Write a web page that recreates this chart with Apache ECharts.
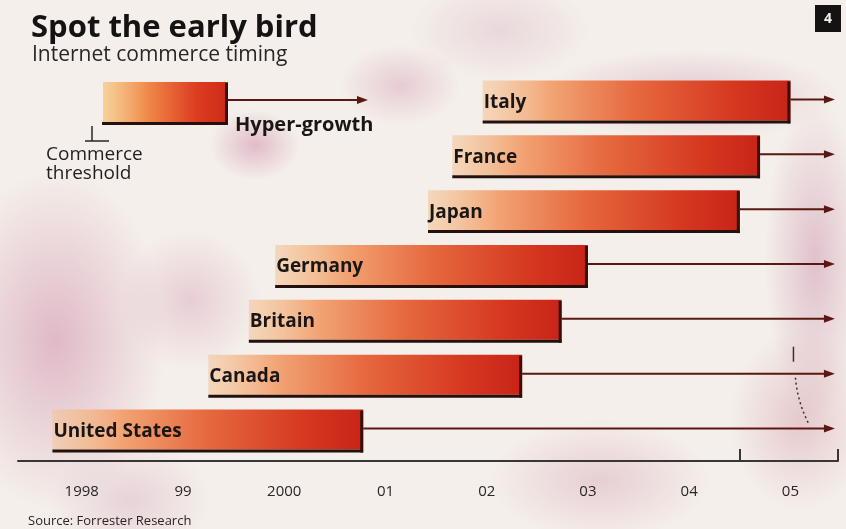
<!DOCTYPE html>
<html>
<head>
<meta charset="utf-8">
<script src="https://cdn.jsdelivr.net/npm/echarts@6/dist/echarts.min.js"></script>
<style>
  html, body { margin: 0; padding: 0; }
  #main {
    width: 846px; height: 529px;
    background-color: #f4efea;
    background-image:
      radial-gradient(ellipse 110px 170px at 55px 340px, rgba(196,110,150,0.42), rgba(196,110,150,0) 100%),
      radial-gradient(ellipse 70px 70px at 190px 300px, rgba(196,110,150,0.26), rgba(196,110,150,0) 100%),
      radial-gradient(ellipse 45px 35px at 255px 145px, rgba(196,110,150,0.40), rgba(196,110,150,0) 100%),
      radial-gradient(ellipse 60px 40px at 400px 85px, rgba(196,110,150,0.28), rgba(196,110,150,0) 100%),
      radial-gradient(ellipse 150px 45px at 690px 95px, rgba(190,110,150,0.32), rgba(190,110,150,0) 100%),
      radial-gradient(ellipse 50px 160px at 815px 260px, rgba(190,110,150,0.36), rgba(190,110,150,0) 100%),
      radial-gradient(ellipse 70px 90px at 800px 420px, rgba(200,120,140,0.32), rgba(200,120,140,0) 100%),
      radial-gradient(ellipse 110px 60px at 600px 480px, rgba(200,120,150,0.28), rgba(200,120,150,0) 100%),
      radial-gradient(ellipse 90px 50px at 500px 30px, rgba(190,120,160,0.20), rgba(190,120,160,0) 100%),
      radial-gradient(ellipse 80px 60px at 130px 500px, rgba(190,120,160,0.24), rgba(190,120,160,0) 100%);
  }
</style>
</head>
<body>
<div id="main"></div>
<script>
// Countries, bottom row first
const countries = ['United States', 'Canada', 'Britain', 'Germany', 'Japan', 'France', 'Italy'];
// Year each country crossed the commerce threshold
const thresholdYear = [1998.21, 1999.75, 2000.15, 2000.41, 2001.92, 2002.16, 2002.46];
// Year each country enters hyper-growth
const hyperGrowthYear = [2001.28, 2002.85, 2003.24, 2003.50, 2005.00, 2005.20, 2005.50];
// Axis labels, one per year
const yearLabels = ['1998', '99', '2000', '01', '02', '03', '04', '05'];
const labelYears = [1998.5, 1999.5, 2000.5, 2001.5, 2002.5, 2003.5, 2004.5, 2005.5];
const axisStart = 1997.87;
const axisEnd = 2005.97;
const arrowEnd = 2005.94;

const FONT = '"Open Sans", "DejaVu Sans", sans-serif';
const INK = '#1a1616';
const ARROW = '#5a1812';

function barFill() {
  return {
    type: 'linear', x: 0, y: 0, x2: 1, y2: 0,
    colorStops: [
      { offset: 0, color: 'rgba(244,196,150,0.55)' },
      { offset: 0.22, color: '#f2a474' },
      { offset: 0.5, color: '#e6683e' },
      { offset: 0.82, color: '#d5371f' },
      { offset: 1, color: '#c82418' }
    ]
  };
}

function arrowShapes(x0, x1, y) {
  return [
    { type: 'line', shape: { x1: x0, y1: y, x2: x1 - 8, y2: y },
      style: { stroke: ARROW, lineWidth: 2 } },
    { type: 'polygon', shape: { points: [[x1 - 11, y - 4], [x1, y], [x1 - 11, y + 4]] },
      style: { fill: ARROW } }
  ];
}

function renderRow(params, api) {
  const row = api.value(0);
  const a = api.coord([api.value(1), row]);
  const b = api.coord([api.value(2), row]);
  const e = api.coord([arrowEnd, row]);
  const band = api.size([0, 1])[1];
  const top = a[1] - band * 0.383;
  const bot = a[1] + band * 0.346;
  const w = b[0] - a[0];
  const yArrow = a[1] - 2;
  return {
    type: 'group',
    children: [
      { type: 'rect', shape: { x: a[0], y: top, width: w, height: bot - top },
        style: { fill: barFill() } },
      { type: 'rect', shape: { x: b[0] - 3, y: top + 1, width: 3, height: bot - top + 2 },
        style: { fill: '#3a0f0a' } },
      { type: 'rect', shape: { x: a[0], y: bot, width: w, height: 3 },
        style: { fill: '#24100c' } },
      ...arrowShapes(b[0], e[0], yArrow),
      { type: 'text', style: {
          text: countries[row], x: a[0] + 1, y: a[1] + 1,
          verticalAlign: 'middle', font: 'bold 19px ' + FONT, fill: INK } }
    ]
  };
}

const rows = countries.map((c, i) => [i, thresholdYear[i], hyperGrowthYear[i]]);

// Key, chart number and source note
const graphics = [
  { type: 'rect', shape: { x: 103, y: 82, width: 125, height: 40 },
    style: { fill: { type: 'linear', x: 0, y: 0, x2: 1, y2: 0, colorStops: [
      { offset: 0, color: 'rgba(246,196,120,0.7)' }, { offset: 0.35, color: '#f08a4a' },
      { offset: 0.75, color: '#dc3c20' }, { offset: 1, color: '#cc2a18' } ] } } },
  { type: 'rect', shape: { x: 225, y: 83, width: 3, height: 42 }, style: { fill: '#3a0f0a' } },
  { type: 'rect', shape: { x: 102, y: 122, width: 126, height: 3 }, style: { fill: '#24100c' } },
  { type: 'line', shape: { x1: 228, y1: 100, x2: 360, y2: 100 }, style: { stroke: ARROW, lineWidth: 2 } },
  { type: 'polygon', shape: { points: [[357, 96], [368, 100], [357, 104]] }, style: { fill: ARROW } },
  { type: 'text', style: { text: 'Hyper-growth', x: 235, y: 125, verticalAlign: 'middle',
      font: 'bold 20px ' + FONT, fill: INK } },
  { type: 'line', shape: { x1: 92, y1: 126, x2: 92, y2: 141 }, style: { stroke: '#2a2626', lineWidth: 1.5 } },
  { type: 'line', shape: { x1: 85, y1: 141, x2: 109, y2: 141 }, style: { stroke: '#2a2626', lineWidth: 1.5 } },
  { type: 'text', style: { text: 'Commerce\nthreshold', x: 46, y: 145, lineHeight: 19,
      font: '500 19px ' + FONT, fill: '#221e1e' } },
  { type: 'rect', shape: { x: 815, y: 5, width: 26, height: 27 }, style: { fill: '#141212' } },
  { type: 'text', style: { text: '4', x: 828, y: 19, align: 'center', verticalAlign: 'middle',
      font: 'bold 14px ' + FONT, fill: '#f4f0ec' } },
  { type: 'text', style: { text: 'Source: Forrester Research', x: 28, y: 521, verticalAlign: 'middle',
      font: '13px ' + FONT, fill: '#2a2626' } }
];

const chart = echarts.init(document.getElementById('main'), null, { renderer: 'canvas' });

chart.setOption({
  backgroundColor: 'transparent',
  animation: false,
  title: [
    { text: 'Spot the early bird', left: 26, top: 8,
      textStyle: { fontFamily: FONT, fontWeight: 'bold', fontSize: 31, color: '#141212' } },
    { text: 'Internet commerce timing', left: 27, top: 40,
      textStyle: { fontFamily: FONT, fontWeight: 'normal', fontSize: 21, color: '#2a2626' } }
  ],
  grid: { left: 18, right: 8, top: 74, height: 384 },
  xAxis: {
    type: 'value', min: axisStart, max: axisEnd, offset: 3,
    splitLine: { show: false },
    axisLine: { show: true, lineStyle: { color: '#3a3636', width: 2 } },
    axisTick: { show: true, inside: true, length: 12, customValues: [2005, axisEnd],
      lineStyle: { color: '#3a3636', width: 2 } },
    axisLabel: {
      customValues: labelYears,
      formatter: v => yearLabels[labelYears.findIndex(y => Math.abs(y - v) < 0.01)],
      margin: 23, fontFamily: FONT, fontSize: 15, color: '#2a2626'
    }
  },
  yAxis: { type: 'category', data: countries, show: false },
  series: [{
    type: 'custom',
    renderItem: renderRow,
    encode: { x: [1, 2], y: 0 },
    data: rows,
    z: 2
  }],
  graphic: graphics
});

// Small marker and dotted link between the Canada and United States arrows near 2005
const pTick = chart.convertToPixel({ gridIndex: 0 }, [2005.53, 'Canada']);
const pTo = chart.convertToPixel({ gridIndex: 0 }, [2005.68, 'United States']);
graphics.push(
  { type: 'line', shape: { x1: pTick[0], y1: pTick[1] - 29, x2: pTick[0], y2: pTick[1] - 14 },
    style: { stroke: '#3a3030', lineWidth: 1.5 } },
  { type: 'bezierCurve', shape: { x1: pTick[0] + 2, y1: pTick[1] + 2, cpx1: pTick[0] + 4, cpy1: pTick[1] + 26,
      x2: pTo[0], y2: pTo[1] - 7 },
    style: { stroke: '#3a3030', lineWidth: 1.5, lineDash: [2, 3], fill: null } }
);
chart.setOption({ graphic: graphics });
</script>
</body>
</html>
